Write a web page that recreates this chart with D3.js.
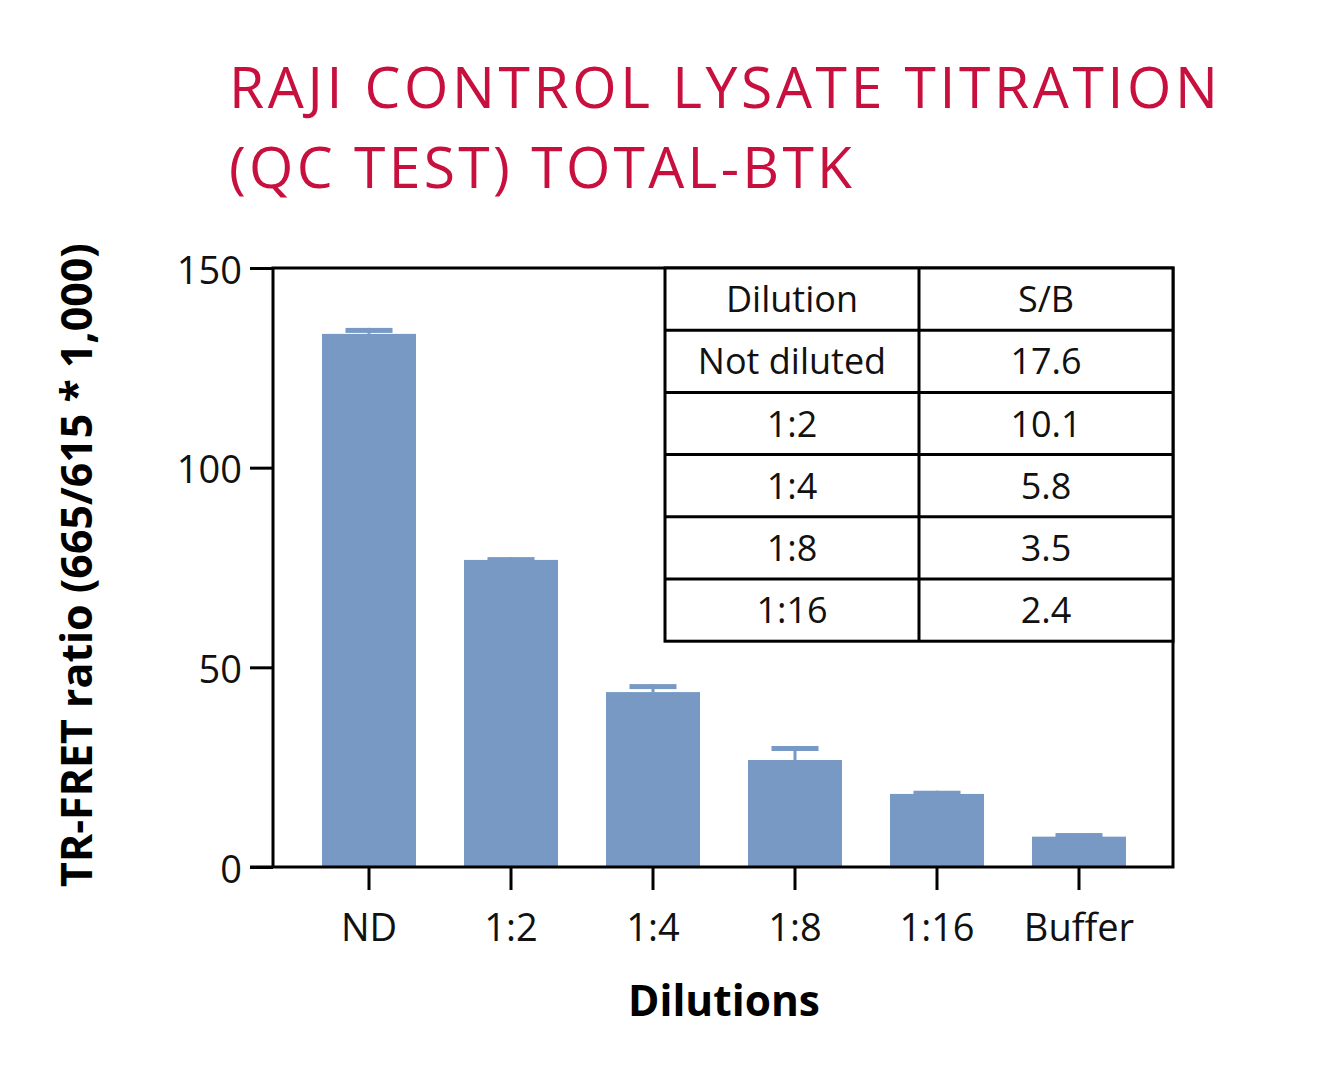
<!DOCTYPE html>
<html>
<head>
<meta charset="utf-8">
<script src="https://cdn.jsdelivr.net/npm/d3@7"></script>
<style>
  body { margin: 0; background: #fff; }
  text { font-family: "Open Sans", "DejaVu Sans", sans-serif; }
</style>
</head>
<body>
<svg id="chart"></svg>
<script>
// data
const categories = ["ND", "1:2", "1:4", "1:8", "1:16", "Buffer"];
const means = [133.5, 76.9, 43.8, 26.8, 18.3, 7.6];
const errors = [1.5, 0.7, 2.0, 3.5, 0.8, 0.9];
const yTicks = [0, 50, 100, 150];

const tableHeader = ["Dilution", "S/B"];
const tableDilutions = ["Not diluted", "1:2", "1:4", "1:8", "1:16"];
const tableSB = ["17.6", "10.1", "5.8", "3.5", "2.4"];

const width = 1328, height = 1071;
const margin = { top: 268, right: 155, bottom: 204, left: 273 };
const barColor = "#7799c4";
const titleColor = "#c8103e";

const svg = d3.select("#chart").attr("width", width).attr("height", height);

const x = d3.scaleBand()
  .domain(categories)
  .range([margin.left + 2, width - margin.right])
  .paddingInner(0.338)
  .paddingOuter(0.331);

const y = d3.scaleLinear()
  .domain([0, 150])
  .range([height - margin.bottom, margin.top]);

// fit a text element to a target width by adjusting font size
function fitWidth(sel, target) {
  const fs = parseFloat(sel.attr("font-size"));
  const w = sel.node().getComputedTextLength();
  sel.attr("font-size", fs * target / w);
}

// title: fixed size, letter spacing stretched to the reference width
svg.append("text")
  .attr("x", 229).attr("y", 108)
  .attr("font-size", 57).attr("fill", titleColor)
  .attr("textLength", 989).attr("lengthAdjust", "spacing")
  .text("RAJI CONTROL LYSATE TITRATION");
svg.append("text")
  .attr("x", 229).attr("y", 188)
  .attr("font-size", 57).attr("fill", titleColor)
  .attr("textLength", 623).attr("lengthAdjust", "spacing")
  .text("(QC TEST) TOTAL-BTK");

// bars
const bars = svg.append("g");
bars.selectAll("rect.bar")
  .data(categories)
  .join("rect")
  .attr("class", "bar")
  .attr("x", d => x(d))
  .attr("y", (d, i) => y(means[i]))
  .attr("width", x.bandwidth())
  .attr("height", (d, i) => y(0) - y(means[i]))
  .attr("fill", barColor);

// error bars (upper only)
const capW = x.bandwidth() / 2;
bars.selectAll("rect.stem")
  .data(categories)
  .join("rect")
  .attr("class", "stem")
  .attr("x", d => x(d) + x.bandwidth() / 2 - 1.5)
  .attr("y", (d, i) => y(means[i] + errors[i]))
  .attr("width", 3)
  .attr("height", (d, i) => y(means[i]) - y(means[i] + errors[i]))
  .attr("fill", barColor);
bars.selectAll("rect.cap")
  .data(categories)
  .join("rect")
  .attr("class", "cap")
  .attr("x", d => x(d) + x.bandwidth() / 2 - capW / 2)
  .attr("y", (d, i) => y(means[i] + errors[i]))
  .attr("width", capW)
  .attr("height", 5)
  .attr("fill", barColor);

// frame
svg.append("rect")
  .attr("x", margin.left).attr("y", margin.top)
  .attr("width", width - margin.right - margin.left)
  .attr("height", height - margin.bottom - margin.top)
  .attr("fill", "none").attr("stroke", "#000").attr("stroke-width", 3);

// y axis
const yAxis = svg.append("g")
  .attr("transform", `translate(${margin.left},0)`)
  .call(d3.axisLeft(y).tickValues(yTicks).tickSize(23).tickPadding(8));
yAxis.select(".domain").remove();
yAxis.selectAll(".tick line").attr("stroke", "#000").attr("stroke-width", 3);
yAxis.selectAll(".tick text")
  .attr("font-size", 38).attr("fill", "#111")
  .attr("font-family", "'Open Sans', sans-serif")
  .attr("dy", "0.4em");

// x axis
const xAxis = svg.append("g")
  .attr("transform", `translate(0,${height - margin.bottom})`)
  .call(d3.axisBottom(x).tickSize(23).tickPadding(24));
xAxis.select(".domain").remove();
xAxis.selectAll(".tick line").attr("stroke", "#000").attr("stroke-width", 3);
xAxis.selectAll(".tick text")
  .attr("font-size", 38).attr("fill", "#111")
  .attr("font-family", "'Open Sans', sans-serif");
// extend baseline leftwards as the 0 tick
svg.append("line")
  .attr("x1", 250).attr("x2", margin.left)
  .attr("y1", y(0)).attr("y2", y(0))
  .attr("stroke", "#000").attr("stroke-width", 3);

// axis titles
const xTitle = svg.append("text")
  .attr("x", 724).attr("y", 1016)
  .attr("text-anchor", "middle")
  .attr("font-size", 36).attr("font-weight", 700)
  .text("Dilutions");
fitWidth(xTitle, 192);

const yTitle = svg.append("text")
  .attr("transform", "translate(92,565) rotate(-90)")
  .attr("text-anchor", "middle")
  .attr("font-size", 36).attr("font-weight", 700)
  .text("TR-FRET ratio (665/615 * 1,000)");
fitWidth(yTitle, 644);

// S/B table
const tLeft = 665, tMid = 919, tRight = 1173, tTop = margin.top, rowH = 62.2;
const rows = [tableHeader].concat(tableDilutions.map((d, i) => [d, tableSB[i]]));
const table = svg.append("g");
table.append("rect")
  .attr("x", tLeft).attr("y", tTop)
  .attr("width", tRight - tLeft).attr("height", rows.length * rowH)
  .attr("fill", "#fff").attr("stroke", "#000").attr("stroke-width", 3);
table.append("line")
  .attr("x1", tMid).attr("x2", tMid)
  .attr("y1", tTop).attr("y2", tTop + rows.length * rowH)
  .attr("stroke", "#000").attr("stroke-width", 3);
table.selectAll("line.row")
  .data(rows.slice(1))
  .join("line")
  .attr("class", "row")
  .attr("x1", tLeft).attr("x2", tRight)
  .attr("y1", (d, i) => tTop + (i + 1) * rowH)
  .attr("y2", (d, i) => tTop + (i + 1) * rowH)
  .attr("stroke", "#000").attr("stroke-width", 3);
rows.forEach((r, i) => {
  const cy = tTop + i * rowH + rowH / 2 + 13;
  table.append("text")
    .attr("x", (tLeft + tMid) / 2).attr("y", cy)
    .attr("text-anchor", "middle").attr("font-size", 36).attr("fill", "#111")
    .text(r[0]);
  table.append("text")
    .attr("x", (tMid + tRight) / 2).attr("y", cy)
    .attr("text-anchor", "middle").attr("font-size", 36).attr("fill", "#111")
    .text(r[1]);
});

// make "Not diluted" fit its cell like in the reference
table.selectAll("text").filter(function () { return this.textContent === "Not diluted"; })
  .each(function () {
    const s = d3.select(this);
    if (this.getComputedTextLength() > 227) fitWidth(s, 227);
  });
</script>
</body>
</html>
